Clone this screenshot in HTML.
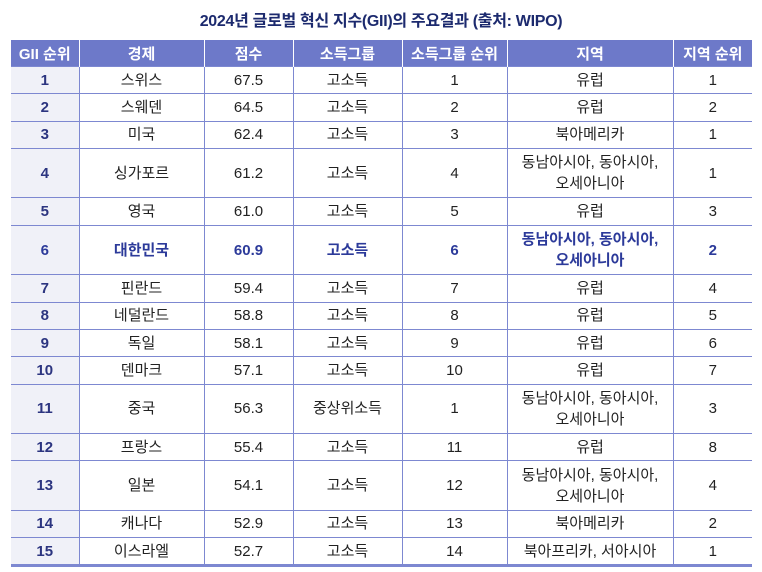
<!DOCTYPE html><html><head><meta charset="utf-8"><style>
body{margin:0;background:#fff;width:762px;height:572px;overflow:hidden;font-family:"Liberation Sans","Noto Sans CJK KR",sans-serif}
.t{position:absolute;top:7px;left:0;width:762px;text-align:center;font-size:16px;font-weight:bold;color:#1c2a6e;letter-spacing:-0.3px}
table{position:absolute;left:11px;top:40px;border-collapse:collapse;table-layout:fixed;width:741px}
th{background:#6d79c9;color:#fff;font-size:15px;font-weight:bold;height:26px;padding:0;border-left:1.5px solid #fff;border-right:1.5px solid #fff}
td{border:1.5px solid #7d88d1;text-align:center;font-size:15px;color:#222;padding:0;line-height:21px;vertical-align:middle}
tr.s td{height:26.4px}tr.d td{height:48.3px}
td:first-child{background:#f0f1f8;color:#2c3580;font-weight:bold;border-left:none}
td:last-child{border-right:none}
tr.b td{color:#2c3a9a;font-weight:bold}
tr:last-child td{border-bottom:3px solid #7d88d1}
</style></head><body>
<div class="t">2024년 글로벌 혁신 지수(GII)의 주요결과 (출처: WIPO)</div>
<table>
<colgroup><col style="width:68px"><col style="width:125px"><col style="width:89px"><col style="width:109px"><col style="width:105px"><col style="width:166px"><col style="width:79px"></colgroup>
<tr><th style="border-left:none">GII 순위</th><th>경제</th><th>점수</th><th>소득그룹</th><th>소득그룹 순위</th><th>지역</th><th style="border-right:none">지역 순위</th></tr>
<tr class="s"><td>1</td><td>스위스</td><td>67.5</td><td>고소득</td><td>1</td><td>유럽</td><td>1</td></tr>
<tr class="s"><td>2</td><td>스웨덴</td><td>64.5</td><td>고소득</td><td>2</td><td>유럽</td><td>2</td></tr>
<tr class="s"><td>3</td><td>미국</td><td>62.4</td><td>고소득</td><td>3</td><td>북아메리카</td><td>1</td></tr>
<tr class="d"><td>4</td><td>싱가포르</td><td>61.2</td><td>고소득</td><td>4</td><td>동남아시아, 동아시아,<br>오세아니아</td><td>1</td></tr>
<tr class="s"><td>5</td><td>영국</td><td>61.0</td><td>고소득</td><td>5</td><td>유럽</td><td>3</td></tr>
<tr class="d b"><td>6</td><td>대한민국</td><td>60.9</td><td>고소득</td><td>6</td><td>동남아시아, 동아시아,<br>오세아니아</td><td>2</td></tr>
<tr class="s"><td>7</td><td>핀란드</td><td>59.4</td><td>고소득</td><td>7</td><td>유럽</td><td>4</td></tr>
<tr class="s"><td>8</td><td>네덜란드</td><td>58.8</td><td>고소득</td><td>8</td><td>유럽</td><td>5</td></tr>
<tr class="s"><td>9</td><td>독일</td><td>58.1</td><td>고소득</td><td>9</td><td>유럽</td><td>6</td></tr>
<tr class="s"><td>10</td><td>덴마크</td><td>57.1</td><td>고소득</td><td>10</td><td>유럽</td><td>7</td></tr>
<tr class="d"><td>11</td><td>중국</td><td>56.3</td><td>중상위소득</td><td>1</td><td>동남아시아, 동아시아,<br>오세아니아</td><td>3</td></tr>
<tr class="s"><td>12</td><td>프랑스</td><td>55.4</td><td>고소득</td><td>11</td><td>유럽</td><td>8</td></tr>
<tr class="d"><td>13</td><td>일본</td><td>54.1</td><td>고소득</td><td>12</td><td>동남아시아, 동아시아,<br>오세아니아</td><td>4</td></tr>
<tr class="s"><td>14</td><td>캐나다</td><td>52.9</td><td>고소득</td><td>13</td><td>북아메리카</td><td>2</td></tr>
<tr class="s"><td>15</td><td>이스라엘</td><td>52.7</td><td>고소득</td><td>14</td><td>북아프리카, 서아시아</td><td>1</td></tr>
</table>
</body></html>
